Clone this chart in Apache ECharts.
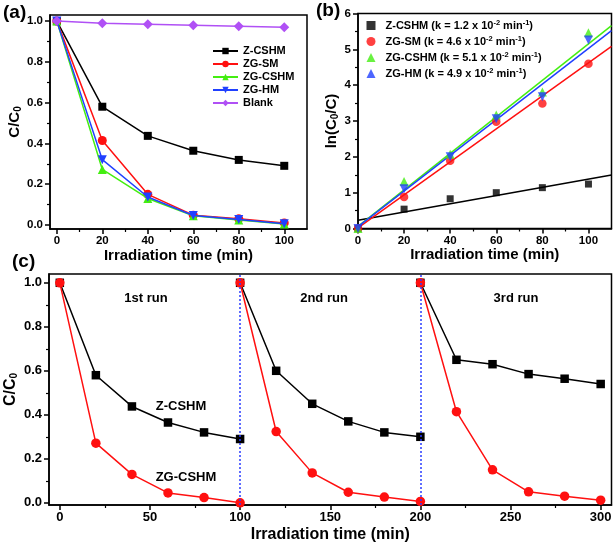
<!DOCTYPE html>
<html><head><meta charset="utf-8">
<script src="https://cdn.jsdelivr.net/npm/echarts@6/dist/echarts.min.js"></script>
<style>html,body{margin:0;padding:0;background:#fff}#c{width:614px;height:547px}</style>
</head><body><div id="c"></div>
<script>
// ---- Panel (a) data ----
const timeA = [0, 20, 40, 60, 80, 100];
const aZCSHM = [1.0, 0.58, 0.437, 0.364, 0.319, 0.29];
const aZGSM = [1.0, 0.414, 0.15, 0.048, 0.03, 0.01];
const aZGCSHM = [1.0, 0.272, 0.13, 0.045, 0.024, 0.004];
const aZGHM = [1.0, 0.32, 0.137, 0.046, 0.027, 0.006];
const aBlank = [1.0, 0.99, 0.985, 0.98, 0.975, 0.97];
const aNames = ['Z-CSHM', 'ZG-SM', 'ZG-CSHM', 'ZG-HM', 'Blank'];

// ---- Panel (b) data ----
const timeB = [0, 20, 40, 60, 80, 100];
const bZCSHM = [0, 0.54, 0.83, 1.0, 1.14, 1.24];
const bZGSM = [0, 0.88, 1.89, 2.98, 3.49, 4.6];
const bZGCSHM = [0, 1.31, 2.07, 3.17, 3.81, 5.46];
const bZGHM = [0, 1.11, 2.0, 3.06, 3.68, 5.26];
const bNames = ['Z-CSHM', 'ZG-SM', 'ZG-CSHM', 'ZG-HM'];
const bK = ['1.2', '4.6', '5.1', '4.9'];
const fitX = [0, 110];
const fitZCSHM = [0.23, 1.49];
const fitZGSM = [0.02, 5.08];
const fitZGCSHM = [0.06, 5.66];
const fitZGHM = [0.05, 5.52];

// ---- Panel (c) data ----
const cTime = [[0, 20, 40, 60, 80, 100], [100, 120, 140, 160, 180, 200], [200, 220, 240, 260, 280, 300]];
const cZCSHM = [[1.0, 0.58, 0.438, 0.365, 0.32, 0.29], [1.0, 0.60, 0.45, 0.37, 0.32, 0.30], [1.0, 0.65, 0.63, 0.585, 0.564, 0.54]];
const cZGCSHM = [[1.0, 0.271, 0.129, 0.045, 0.024, 0.0], [1.0, 0.324, 0.136, 0.048, 0.026, 0.006], [1.0, 0.414, 0.15, 0.05, 0.03, 0.012]];
const cRunBounds = [100, 200];
const cRunLabels = ['1st run', '2nd run', '3rd run'];

// ---- Tick labels ----
const ticksA_x = [0, 20, 40, 60, 80, 100], minorA_x = [10, 30, 50, 70, 90];
const ticksA_y = [0, 0.2, 0.4, 0.6, 0.8, 1.0], minorA_y = [0.1, 0.3, 0.5, 0.7, 0.9];
const ticksB_x = [0, 20, 40, 60, 80, 100], minorB_x = [10, 30, 50, 70, 90];
const ticksB_y = [0, 1, 2, 3, 4, 5, 6], minorB_y = [0.5, 1.5, 2.5, 3.5, 4.5, 5.5];
const ticksC_x = [0, 50, 100, 150, 200, 250, 300], minorC_x = [25, 75, 125, 175, 225, 275];
const ticksC_y = [0, 0.2, 0.4, 0.6, 0.8, 1.0], minorC_y = [0.1, 0.3, 0.5, 0.7, 0.9];

const FF = '"Liberation Sans", Arial, sans-serif';
const BLACK = '#000000', RED = '#ff1010', GREEN = '#44ee11', BLUE = '#2040ff', PURPLE = '#b050f5';

const chart = echarts.init(document.getElementById('c'), null, {renderer: 'canvas'});

const grids = [
  {left: 50, top: 15, width: 257, height: 214},
  {left: 358, top: 13.5, width: 253.5, height: 215},
  {left: 49, top: 274, width: 562.5, height: 231}
].map(g => Object.assign({show: true, borderColor: '#000', borderWidth: 1.5, backgroundColor: 'transparent', containLabel: false, outerBoundsMode: 'none'}, g));

function mainAxis(dim, gi, min, max, ticks, fmt, fs, name, nameGap, nameStyle) {
  return {
    type: 'value', gridIndex: gi, min: min, max: max, position: dim === 'x' ? 'bottom' : 'left',
    splitLine: {show: false},
    axisLine: {show: true, onZero: false, lineStyle: {color: '#000', width: 1.5}},
    axisTick: {show: true, inside: false, length: 5, customValues: ticks, lineStyle: {color: '#000', width: 1.5}},
    axisLabel: {show: true, customValues: ticks, formatter: fmt, color: '#000', fontWeight: 'bold', fontSize: fs, fontFamily: FF, margin: dim === 'x' ? 6 : 7},
    name: name, nameLocation: 'middle', nameGap: nameGap, nameMoveOverlap: false,
    nameTextStyle: nameStyle
  };
}
function minorAxis(dim, gi, min, max, ticks) {
  return {
    type: 'value', gridIndex: gi, min: min, max: max, position: dim === 'x' ? 'bottom' : 'left',
    splitLine: {show: false},
    axisLine: {show: false, onZero: false},
    axisTick: {show: true, inside: false, length: 3, customValues: ticks, lineStyle: {color: '#000', width: 1.2}},
    axisLabel: {show: false}
  };
}
const f1 = v => v.toFixed(1), f0 = v => String(Math.round(v));
const titleStyle = fs => ({color: '#000', fontWeight: 'bold', fontSize: fs, fontFamily: FF});
const subName = (fs, sub) => ({
  color: '#000', fontFamily: FF,
  rich: {
    m: {fontSize: fs, fontWeight: 'bold', fontFamily: FF, color: '#000'},
    s: {fontSize: Math.round(fs * 0.65), fontWeight: 'bold', fontFamily: FF, color: '#000', padding: [Math.round(fs * 0.45), 0, 0, 0]}
  }
});

const xAxis = [
  mainAxis('x', 0, -3, 110, ticksA_x, f0, 11.5, 'Irradiation time (min)', 19, titleStyle(15)),
  minorAxis('x', 0, -3, 110, minorA_x),
  mainAxis('x', 1, 0, 110, ticksB_x, f0, 11.5, 'Irradiation time (min)', 19, titleStyle(15)),
  minorAxis('x', 1, 0, 110, minorB_x),
  mainAxis('x', 2, -6, 306, ticksC_x, f0, 13, 'Irradiation time (min)', 22, titleStyle(16)),
  minorAxis('x', 2, -6, 306, minorC_x)
];
const yAxis = [
  mainAxis('y', 0, -0.02, 1.03, ticksA_y, f1, 11.5, '{m|C/C}{s|0}', 27, subName(15)),
  minorAxis('y', 0, -0.02, 1.03, minorA_y),
  mainAxis('y', 1, 0, 6, ticksB_y, f0, 11.5, '{m|ln(C}{s|0}{m|/C)}', 18, subName(15)),
  minorAxis('y', 1, 0, 6, minorB_y),
  mainAxis('y', 2, -0.01, 1.04, ticksC_y, f1, 13, '{m|C/C}{s|0}', 30, subName(16)),
  minorAxis('y', 2, -0.01, 1.04, minorC_y)
];

const series = [];
// Panel (a)
const aVals = [aZCSHM, aZGSM, aZGCSHM, aZGHM, aBlank];
const aSym = [
  {symbol: 'rect', size: 8, color: BLACK},
  {symbol: 'circle', size: 9, color: RED},
  {symbol: 'triangle', size: 9, color: GREEN},
  {symbol: 'triangle', size: 9, color: BLUE, rotate: 180},
  {symbol: 'diamond', size: 10, color: PURPLE}
];
aVals.forEach((vals, i) => {
  const s = aSym[i];
  series.push({
    type: 'line', name: aNames[i], xAxisIndex: 0, yAxisIndex: 0,
    data: timeA.map((t, j) => [t, vals[j]]),
    symbol: s.symbol, symbolSize: s.size, symbolRotate: s.rotate || 0, showAllSymbol: true,
    itemStyle: {color: s.color}, lineStyle: {color: s.color, width: 1.5},
    animation: false, z: 3 + i
  });
});
// Panel (b)
const bVals = [bZCSHM, bZGSM, bZGCSHM, bZGHM];
const bFits = [fitZCSHM, fitZGSM, fitZGCSHM, fitZGHM];
const bSym = [
  {symbol: 'rect', size: 7, color: BLACK},
  {symbol: 'circle', size: 8.5, color: RED},
  {symbol: 'triangle', size: 9, color: GREEN},
  {symbol: 'triangle', size: 9, color: BLUE, rotate: 180}
];
const bLegendNames = bNames.map((n, i) => n + ' (k = ' + bK[i] + ')');
bFits.forEach((f, i) => {
  series.push({
    type: 'line', name: 'fit ' + bNames[i], xAxisIndex: 2, yAxisIndex: 2,
    data: fitX.map((x, j) => [x, f[j]]), symbol: 'none',
    lineStyle: {color: bSym[i].color, width: 1.5}, animation: false, z: 2
  });
});
bVals.forEach((vals, i) => {
  const s = bSym[i];
  series.push({
    type: 'scatter', name: bLegendNames[i], xAxisIndex: 2, yAxisIndex: 2,
    data: timeB.map((t, j) => [t, vals[j]]),
    symbol: s.symbol, symbolSize: s.size, symbolRotate: s.rotate || 0,
    itemStyle: {color: s.color}, animation: false, z: 3 + i
  });
});
// Panel (c)
[[cZCSHM, 'rect', 8.5, BLACK, 'Z-CSHM'], [cZGCSHM, 'circle', 9.5, RED, 'ZG-CSHM']].forEach((d, k) => {
  d[0].forEach((vals, r) => {
    const ser = {
      type: 'line', name: 'c ' + d[4] + ' run' + (r + 1), xAxisIndex: 4, yAxisIndex: 4,
      data: cTime[r].map((t, j) => [t, vals[j]]),
      symbol: d[1], symbolSize: d[2], showAllSymbol: true,
      itemStyle: {color: d[3]}, lineStyle: {color: d[3], width: 1.5},
      animation: false, z: 3 + k
    };
    if (k === 0 && r === 0) {
      ser.markLine = {
        silent: true, symbol: 'none', label: {show: false}, animation: false,
        lineStyle: {color: '#2a3cff', type: [2, 2], width: 1.5},
        data: cRunBounds.map(v => ({xAxis: v}))
      };
    }
    series.push(ser);
  });
});

const legendText = {color: '#000', fontWeight: 'bold', fontSize: 11, fontFamily: FF};
const option = {
  backgroundColor: '#fff',
  animation: false,
  grid: grids,
  xAxis: xAxis,
  yAxis: yAxis,
  legend: [
    {
      data: aNames, left: 212, top: 45, orient: 'vertical', itemWidth: 25, itemHeight: 8, itemGap: 1,
      textStyle: Object.assign({lineHeight: 12}, legendText), padding: 0, selectedMode: false
    },
    {
      data: bLegendNames, left: 366.5, top: 19, orient: 'vertical', itemWidth: 9, itemHeight: 9, itemGap: 4,
      padding: 0, selectedMode: false,
      formatter: function (name) {
        const i = bLegendNames.indexOf(name);
        return '{p|}{t|' + bNames[i] + ' (k = ' + bK[i] + ' x 10}{u|-2}{t| min}{u|-1}{t|)}';
      },
      textStyle: {
        color: '#000', fontFamily: FF,
        rich: {
          p: {width: 5, fontSize: 11, lineHeight: 13},
          t: {fontSize: 11, fontWeight: 'bold', fontFamily: FF, color: '#000', lineHeight: 13},
          u: {fontSize: 7.5, fontWeight: 'bold', fontFamily: FF, color: '#000', verticalAlign: 'top', lineHeight: 8}
        }
      }
    }
  ],
  graphic: [
    {type: 'text', left: 3, top: 3, style: {text: '(a)', font: 'bold 19px ' + FF, fill: '#000'}},
    {type: 'text', left: 316, top: 1, style: {text: '(b)', font: 'bold 19px ' + FF, fill: '#000'}},
    {type: 'text', left: 12, top: 252, style: {text: '(c)', font: 'bold 19px ' + FF, fill: '#000'}},
    {type: 'text', x: 146, y: 298, style: {text: cRunLabels[0], font: 'bold 13px ' + FF, fill: '#000', align: 'center', verticalAlign: 'middle'}},
    {type: 'text', x: 324, y: 298, style: {text: cRunLabels[1], font: 'bold 13px ' + FF, fill: '#000', align: 'center', verticalAlign: 'middle'}},
    {type: 'text', x: 516, y: 298, style: {text: cRunLabels[2], font: 'bold 13px ' + FF, fill: '#000', align: 'center', verticalAlign: 'middle'}},
    {type: 'text', x: 181, y: 406, style: {text: 'Z-CSHM', font: 'bold 13px ' + FF, fill: '#000', align: 'center', verticalAlign: 'middle'}},
    {type: 'text', x: 186, y: 477, style: {text: 'ZG-CSHM', font: 'bold 13px ' + FF, fill: '#000', align: 'center', verticalAlign: 'middle'}}
  ],
  series: series
};
chart.setOption(option);
</script>
</body></html>
